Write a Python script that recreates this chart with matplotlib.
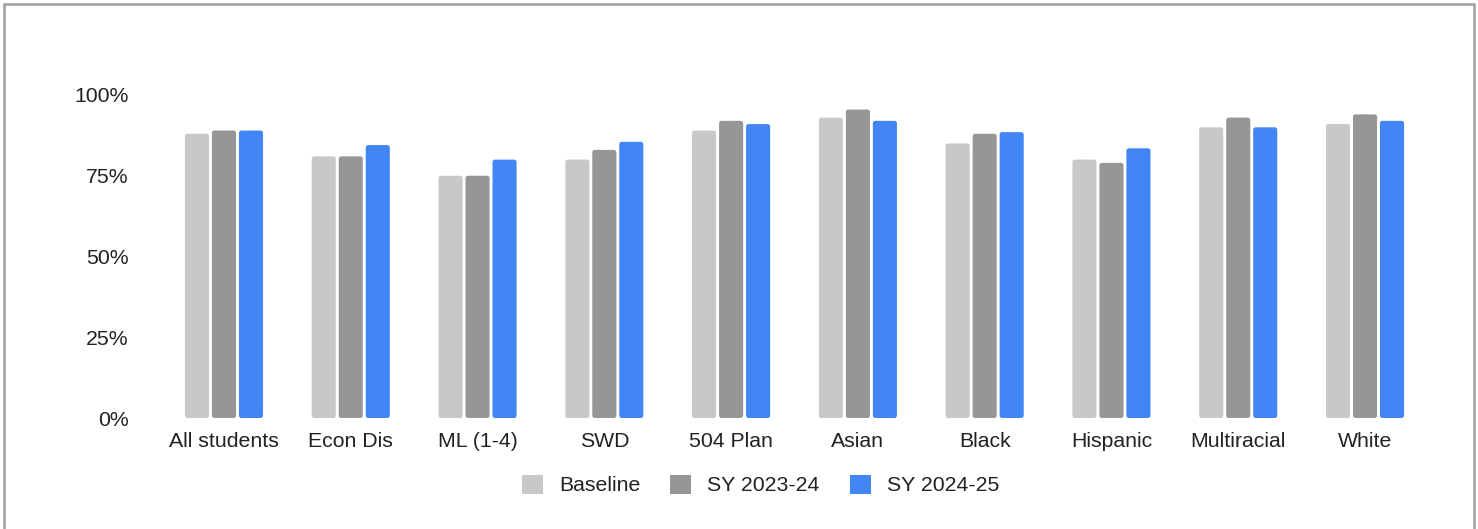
import matplotlib
matplotlib.use("Agg")
import matplotlib.pyplot as plt
from matplotlib.patches import Rectangle, FancyBboxPatch
from matplotlib.ticker import FuncFormatter
import numpy as np

plt.rcParams['font.family'] = ['Liberation Sans', 'DejaVu Sans']

categories = ["All students", "Econ Dis", "ML (1-4)", "SWD", "504 Plan",
              "Asian", "Black", "Hispanic", "Multiracial", "White"]
series_names = ["Baseline", "SY 2023-24", "SY 2024-25"]
baseline = [88, 81, 75, 80, 89, 93, 85, 80, 90, 91]
sy_2023_24 = [89, 81, 75, 83, 92, 95.5, 88, 79, 93, 94]
sy_2024_25 = [89, 84.5, 80, 85.5, 91, 92, 88.5, 83.5, 90, 92]
y_ticks = [0, 25, 50, 75, 100]

colors = ["#c8c8c8", "#969696", "#4285f4"]
W, H, DPI = 1478, 529, 100
FS = 15.3

fig = plt.figure(figsize=(W / DPI, H / DPI), dpi=DPI)
ax_left, ax_right, ax_bottom, ax_top = 160.6, 1428.4, 418, 95
ax = fig.add_axes([ax_left / W, 1 - ax_bottom / H,
                   (ax_right - ax_left) / W, (ax_bottom - ax_top) / H])

x = np.arange(len(categories))
bar_w = 0.19
step = 0.213

ax.set_xlim(-0.5, len(categories) - 0.5)
ax.set_ylim(0, 100)

# pixel size of one data unit along each axis, used for rounding bar corners
px_x = (ax_right - ax_left) / len(categories)
px_y = (ax_bottom - ax_top) / 100
radius_px = 2.5
r_x = radius_px / px_x
aspect = (radius_px / px_y) / r_x

handles = []
for i, (vals, name, c) in enumerate(zip([baseline, sy_2023_24, sy_2024_25], series_names, colors)):
    bars = ax.bar(x + (i - 1) * step, vals, width=bar_w, color=c, label=name,
                  edgecolor="none", zorder=2)
    handles.append(bars)
    for p in bars.patches:
        p.set_visible(False)
        ax.add_patch(FancyBboxPatch((p.get_x(), p.get_y()), p.get_width(), p.get_height(),
                                    boxstyle=f"round,pad=0,rounding_size={r_x}",
                                    mutation_aspect=aspect, facecolor=c,
                                    edgecolor="none", zorder=2))

ax.set_yticks(y_ticks)
ax.yaxis.set_major_formatter(FuncFormatter(lambda v, p: f"{int(v)}%"))
ax.set_xticks(x)
ax.set_xticklabels(categories)
ax.tick_params(axis="both", length=0, labelsize=FS, colors="#222222")
ax.tick_params(axis="y", pad=23)
ax.tick_params(axis="x", pad=10)
for s in ax.spines.values():
    s.set_visible(False)

leg = fig.legend(handles=[Rectangle((0, 0), 1, 1, facecolor=c, edgecolor="none") for c in colors],
                 labels=series_names, loc="center",
                 bbox_to_anchor=(760.5 / W, 1 - 485 / H), ncol=3, frameon=False,
                 fontsize=FS, handlelength=1.0, handleheight=1.0,
                 handletextpad=0.75, columnspacing=1.4, labelcolor="#222222")

# outer frame around the chart area
fig.patches.append(Rectangle((4 / W, -0.05), (1474 - 4) / W, 1.05 - 4 / H,
                             transform=fig.transFigure, fill=False,
                             edgecolor="#9e9e9e", linewidth=1.8, zorder=10))

fig.savefig("out.png", dpi=DPI)
